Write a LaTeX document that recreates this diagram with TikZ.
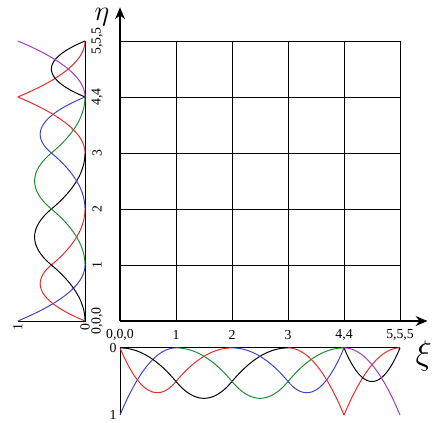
\documentclass[tikz,border=0pt]{standalone}
\usepackage{fontspec}
\setmainfont{Liberation Serif}
\usetikzlibrary{arrows.meta}

\definecolor{bsblue}{RGB}{60,70,190}
\definecolor{bsred}{RGB}{225,45,45}
\definecolor{bsgreen}{RGB}{30,140,50}
\definecolor{bsviolet}{RGB}{160,60,190}

\begin{document}
\begin{tikzpicture}[
    gridline/.style={line width=0.5pt},
    axis/.style={line width=0.6pt, -{Stealth[length=6pt,width=5pt]}},
    frame/.style={line width=0.5pt},
    tick/.style={font=\fontsize{7}{8}\selectfont, inner sep=1pt},
    basis/.style={line width=0.5pt, samples=40, smooth, variable=\t}
]
    \useasboundingbox (-2.143,-1.821) rectangle (5.571,5.732);

    % mesh
    \draw[gridline] (0,0) grid (5,5);

    % parameter axes
    \coordinate (o) at (0,0);
    \coordinate (xitip) at (5.49,0);
    \coordinate (etatip) at (0,5.6);
    \draw[axis] (o) -- (xitip);
    \draw[axis] (o) -- (etatip);
    \node[font=\fontsize{18}{18}\selectfont, inner sep=0pt, anchor=west] (xi) at (5.27,-0.63) {$\xi$};
    \node[font=\fontsize{15}{15}\selectfont, inner sep=0pt] (eta) at (-0.32,5.42) {$\eta$};

    % knot labels
    \foreach \k/\lab in {0/{0,0,0},1/1,2/2,3/3,4/{4,4},5/{5,5,5}} {
        \node[tick] (kx\k) at (\k,-0.25) {\lab};
        \node[tick, rotate=90] (ky\k) at (-0.41,\k) {\lab};
    }

    % frames of the basis plots
    \coordinate (bzero) at (0,-0.48);
    \coordinate (bone) at (0,-1.68);
    \coordinate (bend) at (5,-0.48);
    \draw[frame] (bone) -- (bzero) -- (bend);
    \coordinate (ltop) at (-0.625,5);
    \coordinate (lzero) at (-0.625,0);
    \coordinate (lone) at (-1.825,0);
    \draw[frame] (ltop) -- (lzero) -- (lone);
    \node[tick] (bzerolab) at (-0.125,-0.48) {0};
    \node[tick] (bonelab) at (-0.125,-1.68) {1};
    \node[tick, rotate=90] (lzerolab) at (-0.625,-0.1) {0};
    \node[tick, rotate=90] (lonelab) at (-1.825,-0.1) {1};

    % quadratic basis functions, piece by piece
    \foreach \c/\a/\b/\f in {
        bsblue/0/1/{(1-\t)^2},
        bsred/0/1/{2*\t-1.5*\t^2},
        bsred/1/2/{0.5*(2-\t)^2},
        black/0/1/{0.5*\t^2},
        black/1/2/{0.5*(-2*\t^2+6*\t-3)},
        black/2/3/{0.5*(3-\t)^2},
        bsgreen/1/2/{0.5*(\t-1)^2},
        bsgreen/2/3/{0.5*(-2*(\t-1)^2+6*(\t-1)-3)},
        bsgreen/3/4/{0.5*(4-\t)^2},
        bsblue/2/3/{0.5*(\t-2)^2},
        bsblue/3/4/{2*(4-\t)-1.5*(4-\t)^2},
        bsred/3/4/{(\t-3)^2},
        bsred/4/5/{(5-\t)^2},
        black/4/5/{2*(\t-4)*(5-\t)},
        bsviolet/4/5/{(\t-4)^2}} {
        \draw[basis, \c, domain=\a:\b] plot (\t, {-0.48-1.2*(\f)});
        \draw[basis, \c, domain=\a:\b] plot ({-0.625-1.2*(\f)}, \t);
    }
\end{tikzpicture}
\end{document}
